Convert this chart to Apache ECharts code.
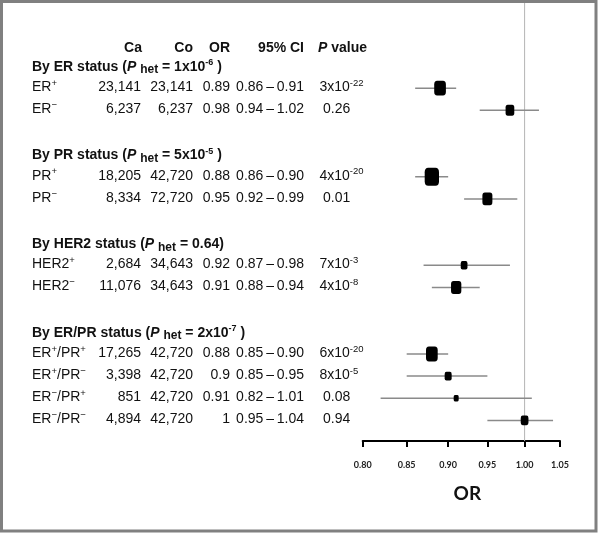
<!DOCTYPE html>
<html><head><meta charset="utf-8">
<script src="https://cdn.jsdelivr.net/npm/echarts@6/dist/echarts.min.js"></script>
<style>html,body{margin:0;padding:0;background:#fff}#c{width:600px;height:533px}</style>
</head><body><div id="c"></div>
<script>
// ---- data ----
const headers = ['Ca', 'Co', 'OR', '95% CI', 'P value'];
const groupNames = ['ER', 'PR', 'HER2', 'ER/PR'];
const groupPHet = ['1x10^-6', '5x10^-5', '0.64', '2x10^-7'];
const groupSizes = [2, 2, 2, 4];
const labels = ['ER^+', 'ER^−', 'PR^+', 'PR^−', 'HER2^+', 'HER2^−', 'ER^+/PR^+', 'ER^+/PR^−', 'ER^−/PR^+', 'ER^−/PR^−'];
const cases = [23141, 6237, 18205, 8334, 2684, 11076, 17265, 3398, 851, 4894];
const controls = [23141, 6237, 42720, 72720, 34643, 34643, 42720, 42720, 42720, 42720];
const oddsRatios = [0.89, 0.98, 0.88, 0.95, 0.92, 0.91, 0.88, 0.9, 0.91, 1];
const ciLow = [0.86, 0.94, 0.86, 0.92, 0.87, 0.88, 0.85, 0.85, 0.82, 0.95];
const ciHigh = [0.91, 1.02, 0.90, 0.99, 0.98, 0.94, 0.90, 0.95, 1.01, 1.04];
const pValues = ['3x10^-22', '0.26', '4x10^-20', '0.01', '7x10^-3', '4x10^-8', '6x10^-20', '8x10^-5', '0.08', '0.94'];
const weights = [11.7, 8.7, 14.3, 10, 6.7, 10.3, 11.7, 7, 5, 7.7];
const xTicks = [0.80, 0.85, 0.90, 0.95, 1.00, 1.05];
const refValue = 1;
const xName = 'OR';

// ---- layout helpers ----
const FONT = '"Liberation Sans", Arial, sans-serif';
const Y_MIN = -2.889, Y_MAX = 16.93;
const rowSlot = [], groupSlot = [];
(function () {
  let s = 0;
  groupSizes.forEach(function (n) {
    groupSlot.push(s++);
    for (let k = 0; k < n; k++) { rowSlot.push(s++); }
    s++;
  });
})();
const HEADER_SLOT = -0.83;

function richify(str, st) { return str.replace(/\^([^\s\/]+)/g, '{' + st + '|$1}'); }
function fmtInt(v) { return v.toLocaleString('en-US'); }

const baseN = { fontFamily: FONT, fontSize: 14, fill: '#111', lineHeight: 18 };
const baseB = { fontFamily: FONT, fontSize: 14, fontWeight: 'bold', fill: '#111', lineHeight: 18 };
const richAll = {
  sup: { fontFamily: FONT, fontSize: 9.5, fill: '#111', verticalAlign: 'top', lineHeight: 9 },
  supB: { fontFamily: FONT, fontSize: 9, fontWeight: 'bold', fill: '#111', verticalAlign: 'top', lineHeight: 9 },
  sub: { fontFamily: FONT, fontSize: 12, fontWeight: 'bold', fill: '#111', verticalAlign: 'bottom', lineHeight: 12 },
  pi: { fontFamily: FONT, fontSize: 14, fontWeight: 'bold', fontStyle: 'italic', fill: '#111', lineHeight: 18 }
};
function txt(x, y, text, align, bold) {
  const st = Object.assign({}, bold ? baseB : baseN, {
    text: text, align: align, verticalAlign: 'middle', rich: richAll, legacy: false
  });
  return { type: 'text', x: x, y: y, style: st };
}

const tableItems = [];
tableItems.push([0, HEADER_SLOT, 0, 0]);
groupSlot.forEach(function (s, g) { tableItems.push([0, s, 1, g]); });
rowSlot.forEach(function (s, i) { tableItems.push([0, s, 2, i]); });

function renderTable(params, api) {
  const y = api.coord([0, api.value(1)])[1];
  const kind = api.value(2), idx = api.value(3);
  const ch = [];
  if (kind === 0) {
    ch.push(txt(142, y + 1, headers[0], 'right', true));
    ch.push(txt(193, y + 1, headers[1], 'right', true));
    ch.push(txt(230, y + 1, headers[2], 'right', true));
    ch.push(txt(304, y + 1, headers[3], 'right', true));
    ch.push(txt(318, y + 1, headers[4].replace(/^P/, '{pi|P}'), 'left', true));
  } else if (kind === 1) {
    const p = groupPHet[idx];
    const t = 'By ' + groupNames[idx] + ' status ({pi|P} {sub|het} = ' + richify(p, 'supB') + (p.indexOf('^') >= 0 ? ' )' : ')');
    ch.push(txt(32, y + 1, t, 'left', true));
  } else {
    const i = idx;
    ch.push(txt(32, y - 1, richify(labels[i], 'sup'), 'left', false));
    ch.push(txt(141, y - 1, fmtInt(cases[i]), 'right', false));
    ch.push(txt(193, y - 1, fmtInt(controls[i]), 'right', false));
    ch.push(txt(230, y - 1, String(oddsRatios[i]), 'right', false));
    ch.push(txt(304, y - 1, ciLow[i].toFixed(2) + '\u2009–\u2009' + ciHigh[i].toFixed(2), 'right', false));
    const pv = pValues[i];
    ch.push(txt(pv.indexOf('^') >= 0 ? 319.5 : 323, y - 1, richify(pv, 'sup'), 'left', false));
  }
  return { type: 'group', children: ch };
}

function renderCI(params, api) {
  const a = api.coord([api.value(0), api.value(2)]);
  const b = api.coord([api.value(1), api.value(2)]);
  return { type: 'line', shape: { x1: a[0], y1: a[1], x2: b[0], y2: b[1] },
    style: { stroke: '#8a8a8a', lineWidth: 1.5 } };
}
function renderRef(params, api) {
  const a = api.coord([api.value(0), Y_MIN]);
  const b = api.coord([api.value(0), Y_MAX]);
  return { type: 'line', shape: { x1: a[0], y1: a[1], x2: b[0], y2: b[1] },
    style: { stroke: '#b4b4b4', lineWidth: 1 } };
}

const ciData = ciLow.map(function (l, i) { return [Math.log(l), Math.log(ciHigh[i]), rowSlot[i]]; });
const orData = oddsRatios.map(function (v, i) { return [Math.log(v), rowSlot[i], weights[i]]; });
const tickVals = xTicks.map(Math.log);

const chart = echarts.init(document.getElementById('c'), null, { renderer: 'canvas' });
chart.setOption({
  animation: false,
  backgroundColor: '#fff',
  grid: { left: 362.7, right: 40, top: 2, bottom: 92, containLabel: false },
  xAxis: {
    type: 'value', position: 'bottom', min: Math.log(xTicks[0]), max: Math.log(xTicks[xTicks.length - 1]),
    axisLine: { show: true, onZero: false, lineStyle: { color: '#000', width: 2 } },
    axisTick: { show: true, inside: false, length: 6, lineStyle: { color: '#000', width: 2 }, customValues: tickVals },
    axisLabel: { customValues: tickVals, margin: 20, fontFamily: 'Lato, sans-serif', fontSize: 9, fontWeight: 'bold', color: '#222',
      formatter: function (v) { return Math.exp(v).toFixed(2); } },
    splitLine: { show: false },
    name: xName, nameLocation: 'middle', nameGap: 43,
    nameTextStyle: { fontFamily: 'Lato, sans-serif', fontSize: 19, fontWeight: 'bold', color: '#111', padding: [0, 0, 0, 12] }
  },
  yAxis: { type: 'value', inverse: true, min: Y_MIN, max: Y_MAX, show: false },
  series: [
    { type: 'custom', name: 'ref', renderItem: renderRef, data: [[Math.log(refValue)]], clip: false, z: 1, silent: true },
    { type: 'custom', name: 'ci', renderItem: renderCI, data: ciData, clip: false, z: 2 },
    { type: 'scatter', name: 'or', data: orData, symbol: 'roundRect',
      symbolSize: function (v) { return [v[2], v[2] * 1.27]; },
      itemStyle: { color: '#000', opacity: 1 }, z: 3 },
    { type: 'custom', name: 'table', renderItem: renderTable, data: tableItems, clip: false, z: 4, silent: true }
  ],
  graphic: [{ type: 'rect', shape: { x: 1.5, y: 1.5, width: 594.5, height: 529.5 },
    style: { fill: 'none', stroke: '#808080', lineWidth: 3 }, z: 100 }]
});
</script></body></html>
